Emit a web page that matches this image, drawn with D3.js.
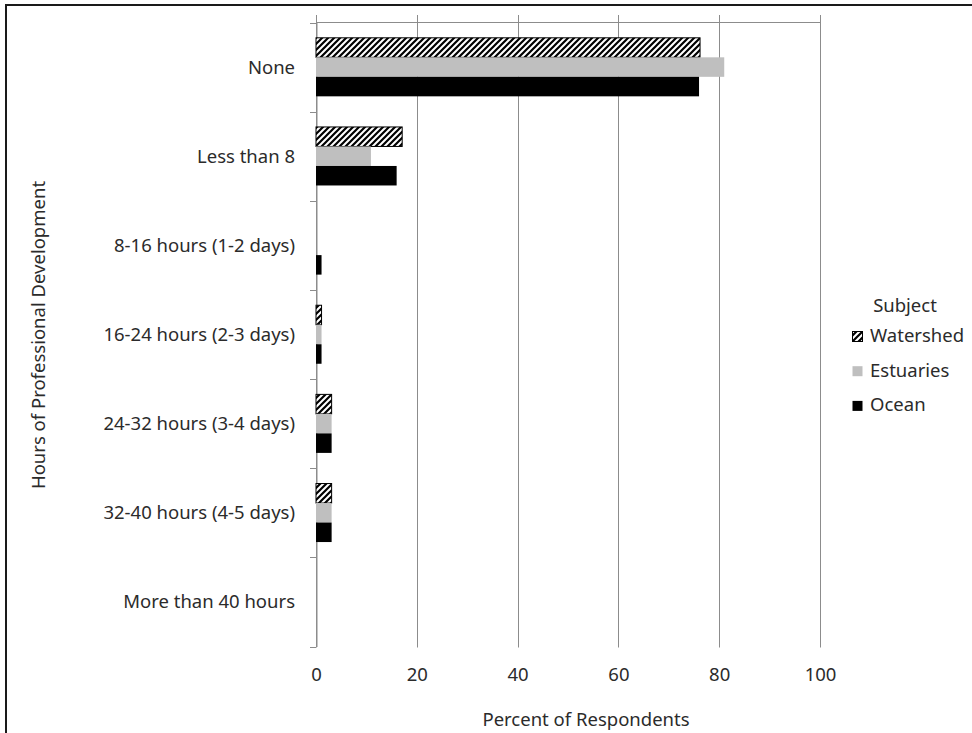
<!DOCTYPE html>
<html>
<head>
<meta charset="utf-8">
<script src="https://cdn.jsdelivr.net/npm/d3@7"></script>
<style>
  html, body { margin: 0; padding: 0; background: #fff; }
  svg { display: block; }
  text { font-family: "Noto Sans", "Open Sans", sans-serif; fill: #2b2b2b; }
</style>
</head>
<body>
<svg id="chart" width="972" height="733"></svg>
<script>
// ---- data ----
const categories = [
  "None",
  "Less than 8",
  "8-16 hours (1-2 days)",
  "16-24 hours (2-3 days)",
  "24-32 hours (3-4 days)",
  "32-40 hours (4-5 days)",
  "More than 40 hours"
];
const seriesNames = ["Watershed", "Estuaries", "Ocean"];
const watershed = [76.2, 17.1, 0, 1.1, 3.1, 3.1, 0];
const estuaries = [81.0, 10.9, 0, 1.1, 3.1, 3.1, 0];
const ocean     = [76.0, 16.0, 1.1, 1.1, 3.1, 3.1, 0];
const xTicks = [0, 20, 40, 60, 80, 100];
const xTitle = "Percent of Respondents";
const yTitle = "Hours of Professional Development";
const legendTitle = "Subject";

const seriesValues = { Watershed: watershed, Estuaries: estuaries, Ocean: ocean };

// ---- layout ----
const svg = d3.select("#chart");
const plotL = 316, plotR = 820, plotT = 22.5, plotB = 646.5;
const fontSize = 18.5;
const gridColor = "#8c8c8c";

const defs = svg.append("defs");
const pat = defs.append("pattern")
  .attr("id", "hatch")
  .attr("patternUnits", "userSpaceOnUse")
  .attr("width", 6).attr("height", 6);
pat.append("rect").attr("width", 6).attr("height", 6).attr("fill", "#fff");
pat.append("path")
  .attr("d", "M-1,1 L1,-1 M0,6 L6,0 M5,7 L7,5")
  .attr("stroke", "#000").attr("stroke-width", 2.2);

const fills = { Watershed: "url(#hatch)", Estuaries: "#bfbfbf", Ocean: "#000" };

// outer frame (cut by the page edges on right/bottom)
svg.append("rect")
  .attr("x", 6).attr("y", 5).attr("width", 1000).attr("height", 800)
  .attr("fill", "none").attr("stroke", "#1a1a1a").attr("stroke-width", 2);

const x = d3.scaleLinear().domain([0, 100]).range([plotL, plotR]);
const y = d3.scaleBand().domain(categories).range([plotT, plotB]).padding(0);
const ySub = d3.scaleBand().domain(seriesNames).range([0, y.bandwidth()])
  .paddingInner(0).paddingOuter(0.785);

// gridlines (with small ticks above top axis)
svg.append("g").selectAll("line").data(xTicks).join("line")
  .attr("x1", d => Math.round(x(d)) + 0.5).attr("x2", d => Math.round(x(d)) + 0.5)
  .attr("y1", plotT - 7.5).attr("y2", plotB + 1)
  .attr("stroke", gridColor).attr("stroke-width", 1);

// top horizontal value-axis line
svg.append("line")
  .attr("x1", plotL).attr("x2", plotR)
  .attr("y1", plotT).attr("y2", plotT)
  .attr("stroke", gridColor).attr("stroke-width", 1);

// category axis
const yAxis = d3.axisLeft(y).tickSize(0).tickFormat("");
const gy = svg.append("g").attr("transform", `translate(${Math.round(plotL) + 0.5},0)`).call(yAxis);
gy.select(".domain").attr("stroke", gridColor);
// category boundary ticks
const bounds = categories.map(c => y(c)).concat([plotB]);
svg.append("g").selectAll("line").data(bounds).join("line")
  .attr("x1", plotL - 6).attr("x2", plotL)
  .attr("y1", d => Math.round(d) + 0.5).attr("y2", d => Math.round(d) + 0.5)
  .attr("stroke", gridColor);

// category labels
svg.append("g").selectAll("text").data(categories).join("text")
  .attr("x", 295)
  .attr("y", d => y(d) + y.bandwidth() / 2 + 6.5)
  .attr("text-anchor", "end")
  .attr("font-size", fontSize)
  .text(d => d);

// bars
const rows = [];
categories.forEach((c, i) => {
  seriesNames.forEach(s => rows.push({ cat: c, series: s, value: seriesValues[s][i] }));
});
svg.append("g").selectAll("rect").data(rows.filter(r => r.value > 0)).join("rect")
  .attr("x", x(0))
  .attr("y", d => y(d.cat) + ySub(d.series))
  .attr("width", d => x(d.value) - x(0))
  .attr("height", ySub.bandwidth())
  .attr("fill", d => fills[d.series])
  .attr("stroke", d => d.series === "Watershed" ? "#000" : "none")
  .attr("stroke-width", 1);

// x tick labels
const xAxis = d3.axisBottom(x).tickValues(xTicks).tickSize(0).tickPadding(0);
const gx = svg.append("g").attr("transform", `translate(0,${plotB})`).call(xAxis);
gx.select(".domain").remove();
gx.selectAll("text")
  .attr("font-size", fontSize)
  .attr("dy", null)
  .attr("y", 681 - plotB)
  .style("font-family", "'Noto Sans', 'Open Sans', sans-serif")
  .style("fill", "#2b2b2b");
gx.attr("font-family", null).attr("font-size", null);

// axis titles
svg.append("text")
  .attr("x", 586).attr("y", 726)
  .attr("text-anchor", "middle")
  .attr("font-size", fontSize)
  .text(xTitle);

svg.append("text")
  .attr("transform", "translate(44.5,335) rotate(-90)")
  .attr("text-anchor", "middle")
  .attr("font-size", fontSize)
  .text(yTitle);

// legend
svg.append("text")
  .attr("x", 905).attr("y", 312)
  .attr("text-anchor", "middle")
  .attr("font-size", fontSize)
  .text(legendTitle);

const lg = svg.append("g").selectAll("g").data(seriesNames).join("g")
  .attr("transform", (d, i) => `translate(0,${342 + i * 34.7})`);
lg.append("rect")
  .attr("x", 852.5).attr("y", -10.5)
  .attr("width", 10).attr("height", 10)
  .attr("fill", d => fills[d])
  .attr("stroke", d => d === "Watershed" ? "#000" : "none");
lg.append("text")
  .attr("x", 870).attr("y", 0)
  .attr("font-size", fontSize)
  .text(d => d);
</script>
</body>
</html>
